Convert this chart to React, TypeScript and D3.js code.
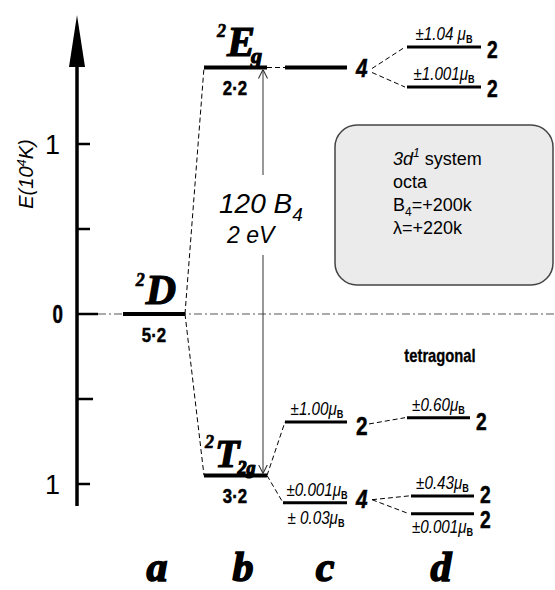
import React from 'react';
import * as d3 from 'd3';

// energies in units of 10^4 K
const columns = ['a', 'b', 'c', 'd'];
const axisTicks = [1, 0.5, 0, -0.5, -1];
const axisTickLabels = ['1', '', '0', '', '1'];

const freeIonE = [0];
const freeIonDeg = ['5·2'];

const octaE = [1.45, -0.95];
const octaTerm = ['E', 'T'];
const octaSub = ['g', '2g'];
const octaDeg = ['2·2', '3·2'];

const soE = [1.45, -0.635, -1.11];
const soParent = [0, 1, 1];
const soDeg = ['4', '2', '4'];
const soMoment = ['', '±1.00', '±0.001'];
const soMomentBelow = ['', '', '± 0.03'];

const tetraE = [1.57, 1.335, -0.61, -1.07, -1.175];
const tetraParent = [0, 0, 1, 2, 2];
const tetraDeg = ['2', '2', '2', '2', '2'];
const tetraMoment = ['±1.04 ', '±1.001', '±0.60', '±0.43', '±0.001'];
const tetraBelow = [false, false, false, false, true];

const boxLines = ['system', 'octa', '=+200k', '=+220k'];

// layout
const W = 555;
const H = 590;
const serif = '"Liberation Serif", "Times New Roman", serif';
const sans = '"Liberation Sans", Arial, sans-serif';

const y = d3.scaleLinear().domain([-1, 1]).range([484, 144]);
const colLeft = d3.scaleOrdinal<string, number>().domain(columns).range([123, 204, 285, 407]);
const colWidth = d3.scaleOrdinal<string, number>().domain(columns).range([62, 63, 62, 74]);
const colLetterX = d3.scaleOrdinal<string, number>().domain(columns).range([157, 243, 325, 441]);
const tetraWidth = [74, 74, 63, 63, 63];
const tetraShift = [0, 0, 0, 4, 4];
const soDegDy = [9, 13, 5];
const tetraDegDy = [11, 10, 12, 7, 14];

const axisX = 77;

// condensed text: Arial squeezed horizontally, stands in for Arial Narrow
const NText = ({ x, y, anchor = 'start', sx = 0.8, children, ...rest }: any) => (
  <text transform={`translate(${x},${y}) scale(${sx},1)`} textAnchor={anchor}
    fontFamily={sans} {...rest}>{children}</text>
);

const Mu = ({ fs }: { fs: number }) => (
  <>
    <tspan>μ</tspan>
    <tspan fontStyle="normal" fontWeight="bold" fontSize={fs * 0.6} dy={3}>B</tspan>
  </>
);

const heavy = { stroke: '#000', strokeWidth: 1.2 };
const boldN = { fontWeight: 'bold', stroke: '#000', strokeWidth: 0.5 };

export default function App() {
  const dash = '5,3';

  const aL = colLeft('a');
  const aR = aL + colWidth('a');
  const bL = colLeft('b');
  const bR = bL + colWidth('b');
  const cL = colLeft('c');
  const cR = cL + colWidth('c');
  const dL = colLeft('d');

  return (
    <svg width={W} height={H} style={{ position: 'absolute', left: 0, top: 0, background: '#fff' }}>
      {/* energy axis */}
      <line x1={axisX} x2={axisX} y1={60} y2={506} stroke="#000" strokeWidth={3.5} />
      <path d={`M${axisX},15 L${axisX - 8},67 L${axisX + 8},67 Z`} fill="#000" />
      {axisTicks.map((t, i) => (
        <line key={'t' + i} x1={axisX} x2={axisX + (t === 0 ? 21 : t === -0.5 ? 16 : 13)}
          y1={y(t)} y2={y(t)} stroke="#000" strokeWidth={2.5} />
      ))}
      {axisTickLabels.map((l, i) => l && (axisTicks[i] === 0 ? (
        <NText key={'tl' + i} x={63} y={y(axisTicks[i]) + 9} anchor="end" sx={0.75}
          fontSize={25} {...boldN}>{l}</NText>
      ) : (
        <text key={'tl' + i} x={60} y={y(axisTicks[i]) + 10} textAnchor="end" fontFamily={sans}
          fontSize={27}>{l}</text>
      )))}
      <text transform="translate(33,174) rotate(-90)" textAnchor="middle" fontFamily={sans}
        fontStyle="italic" fontSize={20}>
        E(10<tspan fontSize={13} dy={-7}>4</tspan><tspan dy={7}>K)</tspan>
      </text>

      {/* zero reference line */}
      <line x1={axisX + 21} x2={W} y1={y(0)} y2={y(0)} stroke="#555" strokeWidth={1}
        strokeDasharray="8,3,2,3" />

      {/* connecting dashed lines */}
      {octaE.map((e, i) => (
        <line key={'ab' + i} x1={aR} y1={y(freeIonE[0])} x2={bL} y2={y(e)}
          stroke="#000" strokeWidth={1} strokeDasharray={dash} />
      ))}
      {soE.map((e, i) => (
        <line key={'bc' + i} x1={bR} y1={y(octaE[soParent[i]])} x2={cL - (i === 2 ? 2 : 0)} y2={y(e)}
          stroke="#000" strokeWidth={1} strokeDasharray={dash} />
      ))}
      {tetraE.map((e, i) => {
        const p = tetraParent[i];
        const x1 = cR + (soDeg[p] === '4' ? 25 : 22);
        return (
          <line key={'cd' + i} x1={x1} y1={y(soE[p]) + (p === 0 ? (i === 0 ? 1 : 5) : p === 2 ? -3 : 2)}
            x2={dL + tetraShift[i] - 2} y2={y(e)}
            stroke="#000" strokeWidth={1} strokeDasharray={dash} />
        );
      })}

      {/* column a: free ion */}
      {freeIonE.map((e, i) => (
        <g key={'a' + i}>
          <line x1={aL} x2={aR} y1={y(e)} y2={y(e)} stroke="#000" strokeWidth={4} />
          <NText x={(aL + aR) / 2} y={y(e) + 28} anchor="middle"
            fontSize={21} {...boldN}>{freeIonDeg[i]}</NText>
          <text x={(aL + aR) / 2 + 2} y={y(e) - 10} textAnchor="middle" fontFamily={serif}
            fontWeight="bold" fontStyle="italic" fontSize={42} {...heavy}>
            <tspan fontSize={18} dy={-18} strokeWidth={0.6}>2</tspan><tspan dy={18} dx={1}>D</tspan>
          </text>
        </g>
      ))}

      {/* column b: octahedral terms */}
      {octaE.map((e, i) => (
        <g key={'b' + i}>
          <line x1={bL} x2={bR} y1={y(e)} y2={y(e)} stroke="#000" strokeWidth={4} />
          <NText x={bL + 31} y={y(e) + 27} anchor="middle"
            fontSize={21} {...boldN}>{octaDeg[i]}</NText>
          <text x={bL + (i === 0 ? 13 : 1)} y={y(e) - (i === 0 ? 12 : 9)} fontFamily={serif}
            fontWeight="bold" fontStyle="italic" fontSize={i === 0 ? 42 : 40} {...heavy}>
            <tspan fontSize={18} dy={-19} strokeWidth={0.6}>2</tspan>
            <tspan dy={19} dx={1}>{octaTerm[i]}</tspan>
            <tspan fontSize={i === 0 ? 22 : 18} dy={7} dx={i === 0 ? -4 : -2}>{octaSub[i]}</tspan>
          </text>
        </g>
      ))}

      {/* crystal-field splitting arrow */}
      <defs>
        <marker id="ah" viewBox="0 0 10 10" refX={10} refY={5} markerWidth={9} markerHeight={14}
          markerUnits="userSpaceOnUse" orient="auto">
          <path d="M0,0 L10,5 L0,10" fill="none" stroke="#333" strokeWidth={1.2} />
        </marker>
      </defs>
      <line x1={263} x2={263} y1={175} y2={y(octaE[0]) + 2} stroke="#333" strokeWidth={1}
        markerEnd="url(#ah)" />
      <line x1={263} x2={263} y1={255} y2={y(octaE[1]) - 2} stroke="#333" strokeWidth={1}
        markerEnd="url(#ah)" />
      <text x={219} y={213} fontFamily={sans} fontStyle="italic" fontSize={28}>
        120 B<tspan fontSize={19} dy={8}>4</tspan>
      </text>
      <text x={227} y={243} fontFamily={sans} fontStyle="italic" fontSize={23}>2 eV</text>

      {/* column c: spin-orbit levels */}
      <line x1={bR} x2={cL} y1={y(soE[0])} y2={y(soE[0])} stroke="#000" strokeWidth={1}
        strokeDasharray={dash} />
      {soE.map((e, i) => (
        <g key={'c' + i}>
          <line x1={cL - (i === 2 ? 2 : 0)} x2={cR} y1={y(e)} y2={y(e)}
            stroke="#000" strokeWidth={i === 0 ? 4 : 3} />
          <NText x={cR + 9} y={y(e) + soDegDy[i]} {...boldN}
            fontStyle={soDeg[i] === '4' ? 'italic' : 'normal'} fontSize={26}
            sx={0.8}>{soDeg[i]}</NText>
          {soMoment[i] && (
            <NText x={(cL + cR) / 2 + 1} y={y(e) - 7} anchor="middle"
              fontStyle="italic" fontSize={19}>{soMoment[i]}<Mu fs={19} /></NText>
          )}
          {soMomentBelow[i] && (
            <NText x={(cL + cR) / 2} y={y(e) + 21} anchor="middle"
              fontStyle="italic" fontSize={19}>{soMomentBelow[i]}<Mu fs={19} /></NText>
          )}
        </g>
      ))}

      {/* column d: tetragonal levels */}
      {tetraE.map((e, i) => {
        const x1 = dL + tetraShift[i];
        const x2 = x1 + tetraWidth[i];
        return (
          <g key={'d' + i}>
            <line x1={x1} x2={x2} y1={y(e)} y2={y(e)} stroke="#000" strokeWidth={3} />
            <NText x={x2 + 6} y={y(e) + tetraDegDy[i]} {...boldN}
              fontSize={24} sx={0.8}>{tetraDeg[i]}</NText>
            <NText x={(x1 + x2) / 2} y={tetraBelow[i] ? y(e) + 19 : y(e) - 7} anchor="middle"
              fontStyle="italic" fontSize={19}>{tetraMoment[i]}<Mu fs={19} /></NText>
          </g>
        );
      })}
      <NText x={440} y={362} anchor="middle" fontSize={18} sx={0.82} {...boldN}
        strokeWidth={0.3}>tetragonal</NText>

      {/* parameter box */}
      <rect x={335} y={125} width={218} height={160} rx={22} fill="#ebebeb" stroke="#444"
        strokeWidth={1.5} />
      <text fontFamily={sans} fontSize={18}>
        <tspan x={393} y={165} fontStyle="italic">3d</tspan>
        <tspan fontStyle="italic" fontSize={12} dy={-8}>1</tspan>
        <tspan dy={8}> {boxLines[0]}</tspan>
        <tspan x={393} y={188}>{boxLines[1]}</tspan>
        <tspan x={393} y={211}>B</tspan>
        <tspan fontSize={12} dy={5}>4</tspan>
        <tspan dy={-5}>{boxLines[2]}</tspan>
        <tspan x={393} y={234}>λ{boxLines[3]}</tspan>
      </text>

      {/* column letters */}
      {columns.map((c) => (
        <text key={c} x={colLetterX(c)} y={581} textAnchor="middle" fontFamily={serif}
          fontWeight="bold" fontStyle="italic" fontSize={42} stroke="#000" strokeWidth={1.6}>{c}</text>
      ))}
    </svg>
  );
}
